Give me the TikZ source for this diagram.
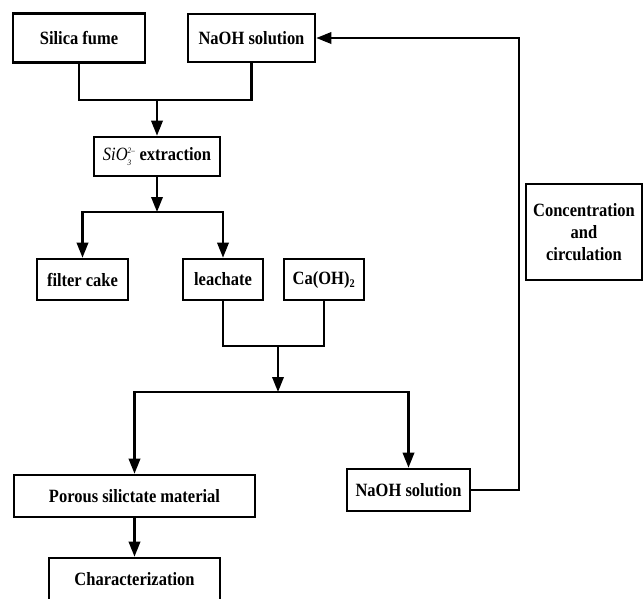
\documentclass[tikz,border=0pt]{standalone}
\usepackage{fontspec}
\setmainfont{Liberation Serif}[FakeStretch=0.88]
\usetikzlibrary{arrows.meta}

\begin{document}
\begin{tikzpicture}[
    box/.style={draw, line width=2.2pt, rectangle, align=center, inner sep=2pt,
      font=\fontsize{16}{19}\selectfont\bfseries},
    line/.style={line width=2pt},
    arr/.style={line width=2pt, -{Triangle[length=0.45cm,width=0.34cm]}}
  ]
      \useasboundingbox (0,0) rectangle (19.29,-17.94);
      % input boxes
      \node[box, minimum width=3.96cm, minimum height=1.47cm] (silica) at (2.37,-1.14) {Silica fume};
      \node[box, minimum width=3.81cm, minimum height=1.44cm] (naohin) at (7.545,-1.14) {NaOH solution};
      \node[box, minimum width=3.78cm, minimum height=1.17cm] (extract) at (4.71,-4.695)
        {{\mdseries\itshape SiO$_{\mbox{\scriptsize\mdseries 3}}^{\mbox{\scriptsize\mdseries 2--}}$} extraction};
      \node[box, minimum width=2.73cm, minimum height=1.23cm] (cake) at (2.475,-8.385) {filter cake};
      \node[box, minimum width=2.4cm, minimum height=1.23cm] (leach) at (6.69,-8.385) {leachate};
      \node[box, minimum width=2.4cm, minimum height=1.23cm] (caoh) at (9.72,-8.385) {Ca(OH)$_{\mbox{\fontsize{10}{10}\selectfont 2}}$};
      \node[box, minimum width=7.23cm, minimum height=1.26cm] (porous) at (4.035,-14.88) {Porous silictate material};
      \node[box, minimum width=3.69cm, minimum height=1.26cm] (naohout) at (12.255,-14.7) {NaOH solution};
      % runs off the bottom edge
      \node[box, minimum width=5.13cm, minimum height=1.8cm, text depth=0.55cm] (charact) at (4.035,-17.64) {Characterization};
      \node[box, minimum width=3.48cm, minimum height=2.88cm] (conc) at (17.52,-6.96)
        {Concentration\\and\\circulation};

      \coordinate (j1) at (4.71,-3.0);
      \coordinate (j2) at (4.71,-6.36);
      \coordinate (j3) at (8.34,-10.38);
      \coordinate (j4) at (8.34,-11.76);
      \coordinate (ret) at (15.57,-1.14);

      % connectors
      \draw[line] (silica.south) |- (j1) -| (naohin.south);
      \draw[arr] (j1) -- (extract.north);
      \draw[arr] (extract.south) -- (j2);
      \draw[arr] (j2) -| (cake.north);
      \draw[arr] (j2) -| (leach.north);
      \draw[line] (leach.south) |- (j3) -| (caoh.south);
      \draw[arr] (j3) -- (j4);
      \draw[arr] (j4) -| (porous.north);
      \draw[arr] (j4) -| (naohout.north);
      \draw[arr] (porous.south) -- (charact.north);
      \draw[arr] (naohout.east) -| (ret) -- (naohin.east);
    \end{tikzpicture}
\end{document}
